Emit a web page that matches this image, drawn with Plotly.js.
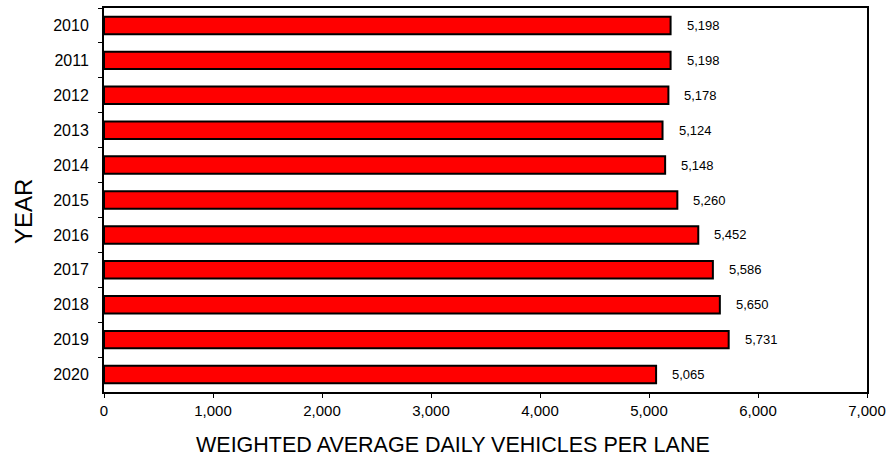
<!DOCTYPE html>
<html><head><meta charset="utf-8">
<script src="https://cdn.plot.ly/plotly-3.0.1.min.js"></script>
<style>body{margin:0;padding:0;background:#fff}</style>
</head><body>
<div id="chart" style="width:891px;height:458px"></div>
<script>
const years = ['2010','2011','2012','2013','2014','2015','2016','2017','2018','2019','2020'];
const vehicles = [5198,5198,5178,5124,5148,5260,5452,5586,5650,5731,5065];
const labels = vehicles.map(v => v.toLocaleString('en-US'));
const xTitle = 'WEIGHTED AVERAGE DAILY VEHICLES PER LANE';
const yTitle = 'YEAR';

const FONT = 'Liberation Sans, Arial, sans-serif';
const trace = {
  type: 'bar', orientation: 'h',
  x: vehicles, y: years,
  marker: {color: '#ff0000', line: {color: '#000', width: 2}},
  width: 0.5, hoverinfo: 'none'
};
const annotations = years.map((y, i) => ({
  x: vehicles[i], y: i, xref: 'x', yref: 'y',
  text: labels[i], showarrow: false, xanchor: 'left', xshift: 14,
  font: {family: FONT, size: 13, color: '#000'}
}));
annotations.push({
  text: xTitle, xref: 'paper', yref: 'paper', x: 0.4574, y: -0.138,
  xanchor: 'center', yanchor: 'middle', showarrow: false,
  font: {family: FONT, size: 21.5, color: '#000'}
});
annotations.push({
  text: yTitle, xref: 'paper', yref: 'paper', x: -0.1055, y: 0.47,
  xanchor: 'center', yanchor: 'middle', showarrow: false, textangle: -90,
  font: {family: FONT, size: 24, color: '#000'}
});
const layout = {
  width: 891, height: 458,
  margin: {l: 104, r: 24, t: 8, b: 66},
  paper_bgcolor: '#fff', plot_bgcolor: '#fff',
  font: {family: FONT, color: '#000'},
  showlegend: false,
  xaxis: {
    range: [0, 7000], tickvals: [0,1000,2000,3000,4000,5000,6000,7000],
    tickformat: ',d', showgrid: false, zeroline: false,
    showline: true, linecolor: '#000', linewidth: 2, mirror: true,
    ticks: 'outside', ticklen: 4, tickcolor: '#000', tickwidth: 1,
    tickfont: {size: 15}
  },
  yaxis: {
    type: 'category', categoryorder: 'array', categoryarray: years,
    range: [years.length - 0.5, -0.5], autorange: false,
    showgrid: false, zeroline: false,
    showline: true, linecolor: '#000', linewidth: 2, mirror: true,
    ticks: 'outside', tickson: 'boundaries', ticklen: 4, tickcolor: '#000', tickwidth: 1,
    tickfont: {size: 16}, ticklabelstandoff: 10
  },
  annotations: annotations
};
Plotly.newPlot('chart', [trace], layout, {staticPlot: true, displayModeBar: false});
</script>
</body></html>
